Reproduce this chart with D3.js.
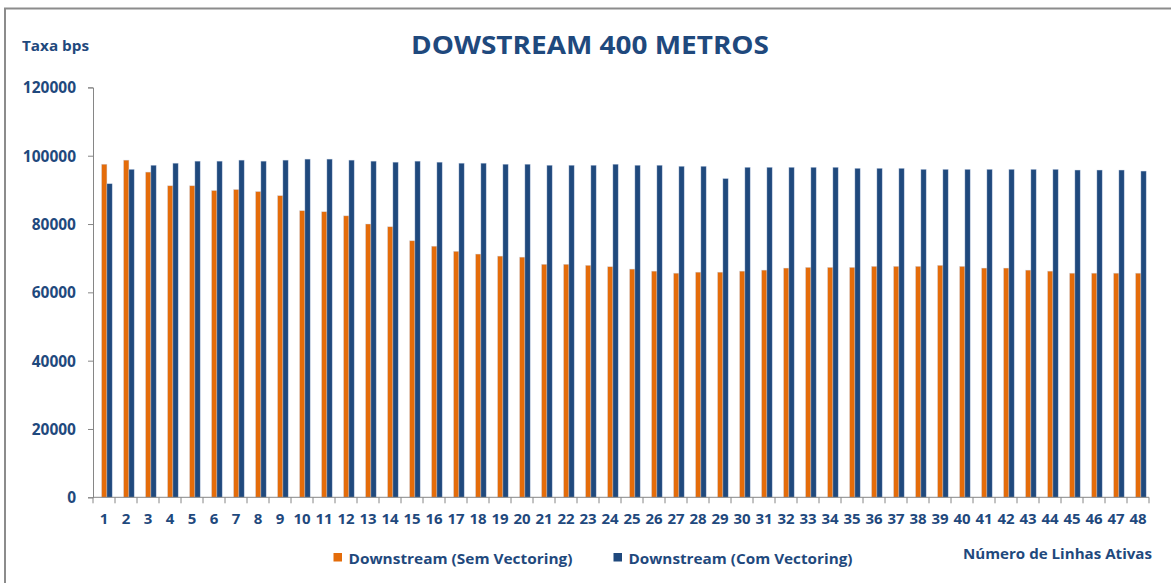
<!DOCTYPE html>
<html lang="pt">
<head>
    <meta charset="UTF-8">
    <title>Dowstream 400 metros</title>
    <script src="https://d3js.org/d3.v7.min.js"></script>
    <style>
        body{
            margin: 0;
            background: #ffffff;
        }
        text{
            font-family: "Open Sans", "DejaVu Sans", sans-serif;
            font-weight: bold;
            fill: #1f497d;
        }
    </style>
</head>
<body>

<svg id="chart" width="1171" height="583"></svg>

<script>
    // numero de linhas ativas 1..48
    let linhas = d3.range(1, 49).map(String)

    // Downstream (Sem Vectoring), bps
    let semVectoring = [
        97500, 98700, 95200, 91200, 91200, 89800, 90100, 89500, 88300, 83900,
        83600, 82400, 80000, 79200, 75100, 73500, 72000, 71200, 70600, 70300,
        68200, 68200, 67900, 67500, 66800, 66200, 65600, 65900, 65900, 66200,
        66500, 67100, 67300, 67300, 67300, 67600, 67600, 67600, 67900, 67600,
        67100, 67100, 66500, 66200, 65600, 65600, 65600, 65600
    ]

    // Downstream (Com Vectoring), bps
    let comVectoring = [
        91800, 96000, 97200, 97800, 98400, 98400, 98700, 98400, 98700, 99000,
        99000, 98700, 98400, 98100, 98400, 98100, 97800, 97800, 97500, 97500,
        97200, 97200, 97200, 97500, 97200, 97200, 96900, 96900, 93300, 96600,
        96600, 96600, 96600, 96600, 96300, 96300, 96300, 96000, 96000, 96000,
        96000, 96000, 96000, 96000, 95800, 95800, 95800, 95500
    ]

    let yTicks = [0, 20000, 40000, 60000, 80000, 100000, 120000]

    let series = ["Downstream (Sem Vectoring)", "Downstream (Com Vectoring)"]
    let colors = ["#e46c0a", "#1f497d"]

    let svg = d3.select("#chart")

    // fit a text to the width it has in the picture
    function fit(sel, w){
        let len = sel.node().getComputedTextLength()
        if (Math.abs(len - w) > 1) {
            sel.attr("textLength", w).attr("lengthAdjust", "spacingAndGlyphs")
        }
        return sel
    }

    // outer frame (top and left only show)
    svg.append("path")
        .attr("d", "M5,1171 V8.5 H1171")
        .attr("fill", "none")
        .attr("stroke", "#8c8c8c")
        .attr("stroke-width", 2)

    let x0 = d3.scaleBand().domain(linhas).range([93, 1149])
    let x1 = d3.scaleBand().domain(series).range([8.6, 19.2])
    let y = d3.scaleLinear().domain([0, 120000]).range([497.3, 87.4])

    // bars
    let groups = svg.append("g")
        .selectAll("g")
        .data(linhas)
        .join("g")
        .attr("transform", d => "translate(" + x0(d) + ",0)")

    groups.selectAll("rect")
        .data((d, i) => [
            {s: series[0], v: semVectoring[i]},
            {s: series[1], v: comVectoring[i]}
        ])
        .join("rect")
        .attr("x", d => x1(d.s))
        .attr("width", x1.bandwidth())
        .attr("y", d => y(d.v))
        .attr("height", d => y(0) - y(d.v))
        .attr("fill", (d, i) => colors[i])
        .attr("stroke", "#c6d4e8")
        .attr("stroke-opacity", 0.6)
        .attr("stroke-width", 0.6)

    // y axis
    let yAxis = svg.append("g")
        .attr("transform", "translate(93,0)")
        .call(d3.axisLeft(y).tickValues(yTicks).tickSize(5).tickPadding(12).tickFormat(d3.format("d")))
    yAxis.select(".domain").attr("stroke", "#868686")
    yAxis.selectAll(".tick line").attr("stroke", "#868686")
    yAxis.selectAll(".tick text")
        .style("font-size", "15.5px")
        .style("font-family", null)
        .attr("fill", null)
        .attr("dy", "0.36em")

    // x axis, ticks between categories
    let xAxis = svg.append("g").attr("transform", "translate(0," + y(0) + ")")
    xAxis.append("line")
        .attr("x1", x0.range()[0]).attr("x2", x0.range()[1])
        .attr("stroke", "#868686")
    xAxis.selectAll(".bound")
        .data(d3.range(linhas.length + 1))
        .join("line")
        .attr("class", "bound")
        .attr("x1", i => x0.range()[0] + i * x0.step())
        .attr("x2", i => x0.range()[0] + i * x0.step())
        .attr("y2", 6)
        .attr("stroke", "#868686")
    xAxis.selectAll(".lab")
        .data(linhas)
        .join("text")
        .attr("class", "lab")
        .attr("x", d => x0(d) + x0.bandwidth() / 2)
        .attr("y", 27)
        .attr("text-anchor", "middle")
        .style("font-size", "15px")
        .text(d => d)

    // titles
    fit(svg.append("text")
        .attr("x", 590).attr("y", 53.5)
        .attr("text-anchor", "middle")
        .style("font-size", "25px")
        .attr("fill", "#24508a")
        .text("DOWSTREAM 400 METROS"), 358)

    fit(svg.append("text")
        .attr("x", 22).attr("y", 50.5)
        .style("font-size", "15px")
        .text("Taxa bps"), 67)

    fit(svg.append("text")
        .attr("x", 1152).attr("y", 558.5)
        .attr("text-anchor", "end")
        .style("font-size", "15px")
        .text("Número de Linhas Ativas"), 189)

    // legend
    let legX = [333.5, 613.5]
    let legend = svg.append("g")
        .selectAll("g")
        .data(series)
        .join("g")
        .attr("transform", (d, i) => "translate(" + legX[i] + ",553)")
    legend.append("rect")
        .attr("width", 8.5).attr("height", 8.5)
        .attr("fill", (d, i) => colors[i])
    legend.append("text")
        .attr("x", 15).attr("y", 10.5)
        .style("font-size", "15px")
        .text(d => d)
        .each(function(){ fit(d3.select(this), 224) })
</script>

</body>
</html>
